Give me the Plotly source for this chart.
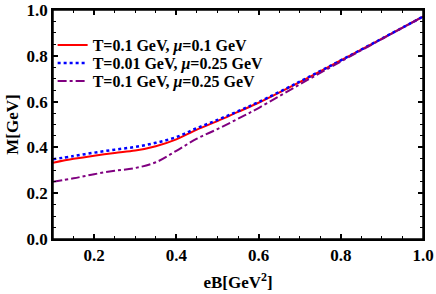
import plotly.graph_objects as go

eB = [0.1, 0.15, 0.2, 0.25, 0.3, 0.35, 0.4, 0.45, 0.5, 0.55, 0.6, 0.7, 0.8, 0.9, 1.0]
M_red = [0.333, 0.350, 0.364, 0.376, 0.386, 0.405, 0.435, 0.478, 0.515, 0.555, 0.595, 0.685, 0.78, 0.875, 0.971]
M_blue = [0.348, 0.362, 0.377, 0.390, 0.402, 0.420, 0.445, 0.484, 0.520, 0.558, 0.598, 0.687, 0.78, 0.875, 0.971]
M_purple = [0.250, 0.265, 0.283, 0.298, 0.310, 0.335, 0.385, 0.438, 0.480, 0.525, 0.572, 0.675, 0.775, 0.873, 0.971]
names = ["<b>T=0.1 GeV, <i>μ</i>=0.1 GeV</b>", "<b>T=0.01 GeV, <i>μ</i>=0.25 GeV</b>", "<b>T=0.1 GeV, <i>μ</i>=0.25 GeV</b>"]
xticks = [0.2, 0.4, 0.6, 0.8, 1.0]
xticklabels = ["<b>0.2</b>", "<b>0.4</b>", "<b>0.6</b>", "<b>0.8</b>", "<b>1.0</b>"]
xminor = [0.15, 0.25, 0.3, 0.35, 0.45, 0.5, 0.55, 0.65, 0.7, 0.75, 0.85, 0.9, 0.95]
yticks = [0, 0.2, 0.4, 0.6, 0.8, 1.0]
yticklabels = ["<b>0.0</b>", "<b>0.2</b>", "<b>0.4</b>", "<b>0.6</b>", "<b>0.8</b>", "<b>1.0</b>"]
yminor = [0.05, 0.1, 0.15, 0.25, 0.3, 0.35, 0.45, 0.5, 0.55, 0.65, 0.7, 0.75, 0.85, 0.9, 0.95]

FONT = "Liberation Serif"
fig = go.Figure()
fig.add_trace(go.Scatter(x=eB, y=M_red, mode="lines", name=names[0], legend="legend",
                         line=dict(color="#ff0000", width=2, shape="spline")))
fig.add_trace(go.Scatter(x=eB, y=M_blue, mode="lines", name=names[1], legend="legend2",
                         line=dict(color="#0000ff", width=2.5, dash="dot", shape="spline")))
fig.add_trace(go.Scatter(x=eB, y=M_purple, mode="lines", name=names[2], legend="legend3",
                         line=dict(color="#800080", width=2, dash="dashdot", shape="spline")))

axis_common = dict(showgrid=False, zeroline=False, showline=True, linecolor="black", linewidth=1.5,
                   mirror="allticks", ticks="inside", ticklen=5, tickwidth=1.5, tickcolor="black",
                   automargin=False,
                   tickfont=dict(family=FONT, size=17, color="black"))
minor_style = dict(ticks="inside", ticklen=3, tickwidth=1, tickcolor="black")
fig.update_layout(
    xaxis=dict(range=[0.1, 1.0], tickvals=xticks, ticktext=xticklabels,
               minor=dict(tickvals=xminor, **minor_style),
               title=dict(text="<b>eB[GeV<sup>2</sup>]</b>", font=dict(family=FONT, size=17, color="black"), standoff=12),
               **axis_common),
    yaxis=dict(range=[0, 1.0], tickvals=yticks, ticktext=yticklabels,
               minor=dict(tickvals=yminor, **minor_style),
               title=dict(text="<b>M[GeV]</b>", font=dict(family=FONT, size=17, color="black"), standoff=4),
               **axis_common),
)
# plot frame (top and right edges)
fig.add_shape(type="rect", xref="x domain", yref="y domain", x0=0, x1=1, y0=0, y1=1,
              line=dict(color="black", width=1.5), fillcolor="rgba(0,0,0,0)", layer="above")
leg_common = dict(x=-0.001, xanchor="left", yanchor="middle", bgcolor="rgba(0,0,0,0)",
                  font=dict(family=FONT, size=16, color="black"), itemwidth=30, visible=True)
fig.update_layout(width=436, height=294, margin=dict(l=53, r=13, t=10, b=55),
                  paper_bgcolor="white", plot_bgcolor="white", showlegend=True,
                  legend=dict(y=0.847, **leg_common),
                  legend2=dict(y=0.7686, **leg_common),
                  legend3=dict(y=0.690, **leg_common))
fig.write_html("out.html", config={"displayModeBar": False},
               post_script="document.body.style.margin='0';document.body.style.overflow='hidden';")
